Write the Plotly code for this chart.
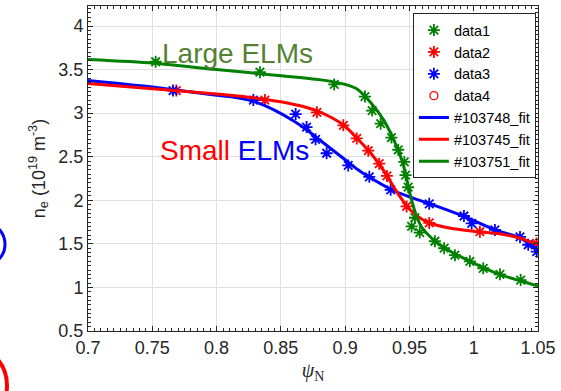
import plotly.graph_objects as go

# ---- data ----
d1_x = [0.7526, 0.8337, 0.8915, 0.9154, 0.9210, 0.9276, 0.9360, 0.9413, 0.9460, 0.9470, 0.9490,
        0.9543, 0.9517, 0.9580, 0.9698, 0.9770, 0.9854, 0.9970, 1.0074, 1.0204, 1.0365]
d1_y = [3.59, 3.47, 3.33, 3.19, 3.03, 2.88, 2.72, 2.58, 2.44, 2.29, 2.15,
        1.80, 1.70, 1.63, 1.53, 1.45, 1.37, 1.30, 1.22, 1.15, 1.085]

d2_x = [0.7687, 0.8376, 0.8780, 0.8986, 0.9090, 0.9180, 0.9265, 0.9325, 0.9478, 0.9654, 1.0048, 1.0489]
d2_y = [3.26, 3.15, 3.01, 2.86, 2.71, 2.57, 2.42, 2.28, 1.93, 1.74, 1.64, 1.505]

d3_x = [0.7661, 0.8286, 0.8615, 0.8700, 0.8770, 0.8856, 0.9024, 0.9188, 0.9354,
        0.9654, 0.9924, 0.9984, 1.0165, 1.0360, 1.0424, 1.0490]
d3_y = [3.26, 3.15, 2.99, 2.84, 2.70, 2.54, 2.40, 2.27, 2.12,
        1.96, 1.82, 1.735, 1.66, 1.58, 1.49, 1.41]

d4_x = [None]
d4_y = [None]

fit48_x = [0.70, 0.75, 0.80, 0.815, 0.83, 0.845, 0.86, 0.87, 0.88, 0.89, 0.90, 0.91, 0.92, 0.935,
           0.95, 0.965, 0.99, 1.015, 1.035, 1.045, 1.05]
fit48_y = [3.375, 3.30, 3.205, 3.18, 3.13, 3.035, 2.91, 2.81, 2.695, 2.58, 2.465, 2.35, 2.255, 2.13,
           2.04, 1.965, 1.83, 1.67, 1.575, 1.49, 1.42]

fit45_x = [0.70, 0.75, 0.80, 0.83, 0.85, 0.87, 0.88, 0.89, 0.90, 0.91, 0.92, 0.93, 0.94,
           0.95, 0.96, 0.97, 0.98, 1.00, 1.02, 1.035, 1.05]
fit45_y = [3.34, 3.28, 3.22, 3.175, 3.13, 3.065, 3.015, 2.945, 2.85, 2.70, 2.54, 2.34, 2.10,
           1.90, 1.78, 1.72, 1.685, 1.645, 1.615, 1.57, 1.49]

fit51_x = [0.70, 0.75, 0.80, 0.85, 0.88, 0.90, 0.91, 0.92, 0.93, 0.94, 0.945, 0.95,
           0.955, 0.96, 0.97, 0.98, 1.00, 1.02, 1.04, 1.05]
fit51_y = [3.615, 3.575, 3.50, 3.43, 3.385, 3.33, 3.27, 3.12, 2.92, 2.62, 2.42, 2.10,
           1.84, 1.68, 1.53, 1.43, 1.28, 1.15, 1.06, 1.015]

x_ticks = [0.7, 0.75, 0.8, 0.85, 0.9, 0.95, 1.0, 1.05]
x_tick_text = ["0.7", "0.75", "0.8", "0.85", "0.9", "0.95", "1", "1.05"]
y_ticks = [0.5, 1, 1.5, 2, 2.5, 3, 3.5, 4]
y_tick_text = ["0.5", "1", "1.5", "2", "2.5", "3", "3.5", "4"]

GREEN = "#008000"
RED = "#ff0000"
BLUE = "#0000ff"
FONT = "Arial, 'Liberation Sans', sans-serif"
AX = "#262626"

fig = go.Figure()

def stars(x, y, c, name):
    fig.add_trace(go.Scatter(x=x, y=y, mode="markers", name=name,
                             marker=dict(symbol="asterisk-open", size=10, color=c,
                                         line=dict(color=c, width=1.8))))

stars(d1_x, d1_y, GREEN, "data1")
stars(d2_x, d2_y, RED, "data2")
stars(d3_x, d3_y, BLUE, "data3")
fig.add_trace(go.Scatter(x=d4_x, y=d4_y, mode="markers", name="data4",
                         marker=dict(symbol="circle-open", size=8, color=RED,
                                     line=dict(color=RED, width=1.3))))

for fx, fy, c, n in [(fit48_x, fit48_y, BLUE, "#103748_fit"),
                     (fit45_x, fit45_y, RED, "#103745_fit"),
                     (fit51_x, fit51_y, GREEN, "#103751_fit")]:
    fig.add_trace(go.Scatter(x=fx, y=fy, mode="lines", name=n,
                             line=dict(color=c, width=3, shape="spline", smoothing=0.6)))

axis_common = dict(
    showline=True, linecolor=AX, linewidth=1, mirror="ticks",
    ticks="inside", ticklen=5, tickcolor=AX, tickwidth=1,
    showgrid=True, gridcolor="#e0e0e0", gridwidth=1,
    zeroline=False, automargin=False,
    tickfont=dict(family=FONT, size=18, color=AX),
)

fig.update_xaxes(range=[0.7, 1.05], tickvals=x_ticks, ticktext=x_tick_text,
                 minor=dict(dtick=0.005, ticks="inside", ticklen=3, tickcolor=AX, showgrid=False),
                 title=dict(text="<i>ψ</i><sub>N</sub>",
                            font=dict(family="'Liberation Serif', 'DejaVu Serif', serif", size=20, color=AX),
                            standoff=6),
                 **axis_common)
fig.update_yaxes(range=[0.5, 4.23], tickvals=y_ticks, ticktext=y_tick_text,
                 minor=dict(dtick=0.05, ticks="inside", ticklen=3, tickcolor=AX, showgrid=False),
                 title=dict(text="n<sub>e</sub> (10<sup>19</sup> m<sup>-3</sup>)",
                            font=dict(family=FONT, size=18, color=AX), standoff=8),
                 **axis_common)

fig.add_annotation(x=0.8163, y=3.68, xref="x", yref="y", text="Large ELMs", showarrow=False,
                   font=dict(family=FONT, size=28, color="#548235"))
fig.add_annotation(x=0.8143, y=2.57, xref="x", yref="y",
                   text="<span style='color:#ff0000'>Small</span> <span style='color:#0000ff'>ELMs</span>",
                   showarrow=False, font=dict(family=FONT, size=28, color=RED))

# partial circles cut off at the left edge of the image
fig.add_shape(type="circle", xref="paper", yref="paper",
              x0=(-39 - 88) / 450, x1=(5 - 88) / 450,
              y0=(331 - 266) / 325.5, y1=(331 - 222) / 325.5,
              line=dict(color=BLUE, width=3))
fig.add_shape(type="circle", xref="paper", yref="paper",
              x0=(-76 - 88) / 450, x1=(7 - 88) / 450,
              y0=(331 - 427) / 325.5, y1=(331 - 344) / 325.5,
              line=dict(color=RED, width=4))

fig.update_layout(
    width=561, height=391,
    margin=dict(l=88, r=23, t=6, b=60, autoexpand=False),
    paper_bgcolor="white", plot_bgcolor="white",
    font=dict(family=FONT, color=AX),
    showlegend=True,
    legend=dict(x=0.722, y=0.978, xanchor="left", yanchor="top",
                bgcolor="white", bordercolor=AX, borderwidth=1,
                font=dict(family=FONT, size=14.5, color="#000000"),
                tracegroupgap=0, itemwidth=30),
)

fig.write_html("out.html", config={"displayModeBar": False},
               post_script="document.body.style.margin='0';document.body.style.overflow='hidden';")
